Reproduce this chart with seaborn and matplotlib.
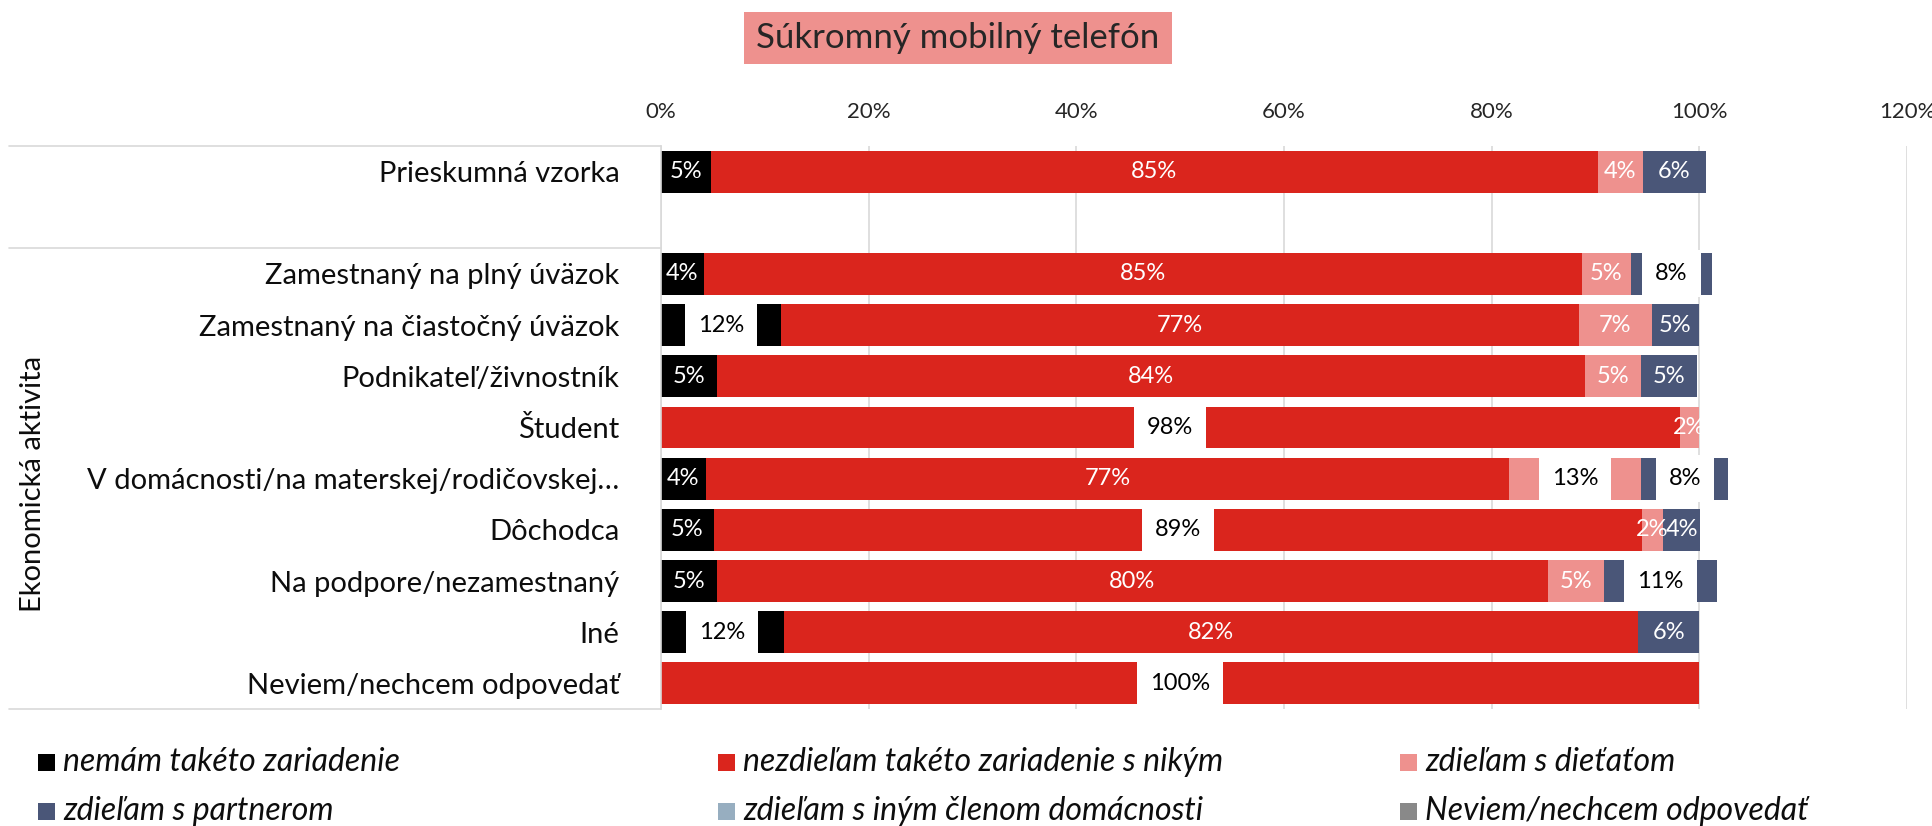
"""
Súkromný mobilný telefón - stacked bar chart by economic activity
"""

import matplotlib
matplotlib.use("Agg")
import matplotlib.pyplot as plt
from matplotlib.patches import Rectangle
from matplotlib.transforms import blended_transform_factory
import pandas as pd
import seaborn as sns

sns.set_theme(style="white")
plt.rcParams["font.family"] = ["Lato", "DejaVu Sans"]

# --- data (percent of respondents) ---
categories = [
    "Prieskumná vzorka",
    "",
    "Zamestnaný na plný úväzok",
    "Zamestnaný na čiastočný úväzok",
    "Podnikateľ/živnostník",
    "Študent",
    "V domácnosti/na materskej/rodičovskej…",
    "Dôchodca",
    "Na podpore/nezamestnaný",
    "Iné",
    "Neviem/nechcem odpovedať",
]

series_names = [
    "nemám takéto zariadenie",
    "nezdieľam takéto zariadenie s nikým",
    "zdieľam s dieťaťom",
    "zdieľam s partnerom",
    "zdieľam s iným členom domácnosti",
    "Neviem/nechcem odpovedať",
]

nemam = [4.8, 0, 4.1, 11.6, 5.4, 0, 4.3, 5.1, 5.4, 11.8, 0]
nezdielam = [85.4, 0, 84.6, 76.8, 83.6, 98.1, 77.4, 89.4, 80.0, 82.3, 100.0]
dieta = [4.4, 0, 4.7, 7.0, 5.4, 1.9, 12.7, 2.0, 5.4, 0, 0]
partner = [6.0, 0, 7.8, 4.6, 5.4, 0, 8.4, 3.6, 10.9, 5.9, 0]
iny_clen = [0, 0, 0, 0, 0, 0, 0, 0, 0, 0, 0]
neviem = [0, 0, 0, 0, 0, 0, 0, 0, 0, 0, 0]

series_values = [nemam, nezdielam, dieta, partner, iny_clen, neviem]
colors = ["#000000", "#DA251D", "#EE918E", "#4A5678", "#97AEC0", "#898989"]

# labels drawn black on a white box (as in the original)
boxed_labels = {
    ("Zamestnaný na plný úväzok", "zdieľam s partnerom"),
    ("Zamestnaný na čiastočný úväzok", "nemám takéto zariadenie"),
    ("Študent", "nezdieľam takéto zariadenie s nikým"),
    ("V domácnosti/na materskej/rodičovskej…", "zdieľam s dieťaťom"),
    ("V domácnosti/na materskej/rodičovskej…", "zdieľam s partnerom"),
    ("Dôchodca", "nezdieľam takéto zariadenie s nikým"),
    ("Na podpore/nezamestnaný", "zdieľam s partnerom"),
    ("Iné", "nemám takéto zariadenie"),
    ("Neviem/nechcem odpovedať", "nezdieľam takéto zariadenie s nikým"),
}

W, H = 1933, 826
fig = plt.figure(figsize=(W / 100, H / 100), dpi=100)
ax = fig.add_axes([661 / W, 1 - 709 / H, (1907 - 661) / W, (709 - 146) / H])

left = [0.0] * len(categories)
for name, vals, col in zip(series_names, series_values, colors):
    df = pd.DataFrame({"kategoria": categories, "podiel": vals})
    sns.barplot(
        data=df,
        x="podiel",
        y="kategoria",
        order=categories,
        orient="y",
        left=list(left),
        color=col,
        saturation=1,
        width=0.82,
        linewidth=0,
        errorbar=None,
        ax=ax,
    )
    left = [l + v for l, v in zip(left, vals)]

# data labels
for container, name, vals in zip(ax.containers, series_names, series_values):
    texts = ax.bar_label(
        container,
        labels=[f"{v:.0f}%" if v > 0 else "" for v in vals],
        label_type="center",
        fontsize=17,
        color="white",
    )
    for txt, cat in zip(texts, categories):
        if (cat, name) in boxed_labels:
            txt.set_color("black")
            txt.set_bbox(dict(boxstyle="square,pad=0.55", fc="white", ec="none"))

# axes styling
ax.set_xlim(0, 120)
ax.set_ylim(len(categories) - 0.5, -0.5)
ax.set_xticks(range(0, 121, 20))
ax.set_xticklabels([f"{t}%" for t in range(0, 121, 20)])
ax.xaxis.set_ticks_position("top")
ax.set_xlabel("")
ax.set_ylabel("")
ax.tick_params(axis="x", length=0, pad=17, labelsize=16, labelcolor="#262626")
ax.tick_params(axis="y", length=0, pad=30, labelsize=21, labelcolor="#0d0d0d")
ax.grid(axis="x", color="#D9D9D9", linewidth=1.2)
ax.grid(axis="y", visible=False)
ax.set_axisbelow(True)
for side in ["top", "right", "bottom"]:
    ax.spines[side].set_visible(False)
ax.spines["left"].set_color("#D9D9D9")
ax.spines["left"].set_linewidth(1.2)

# multi-level category separators to the left of the axis
trans = blended_transform_factory(ax.transAxes, ax.transData)
x0 = (9 - 661) / (1907 - 661)
for yv in [-0.5, 1.5, len(categories) - 0.5]:
    ax.plot([x0, 0], [yv, yv], color="#D9D9D9", linewidth=1.2,
            transform=trans, clip_on=False)

fig.text(33 / W, 1 - 484 / H, "Ekonomická aktivita", rotation=90,
         ha="center", va="center", fontsize=21, color="#0d0d0d")

# title with pink background
fig.add_artist(Rectangle((744 / W, 1 - 64 / H), (1172 - 744) / W, 52 / H,
                         transform=fig.transFigure, facecolor="#EE918E",
                         edgecolor="none"))
fig.text(958 / W, 1 - 38 / H, "Súkromný mobilný telefón", ha="center",
         va="center", fontsize=25, color="#262626")

# legend (3 columns x 2 rows)
col_x = [38, 718, 1400]
row_y = [762, 811]
for i, (name, col) in enumerate(zip(series_names, colors)):
    x = col_x[i % 3]
    y = row_y[i // 3]
    fig.add_artist(Rectangle((x / W, 1 - (y + 8.5) / H), 17 / W, 17 / H,
                             transform=fig.transFigure, facecolor=col,
                             edgecolor="none"))
    fig.text((x + 25) / W, 1 - y / H, name, ha="left", va="center",
             fontsize=23, style="italic", color="#0d0d0d")

fig.savefig("out.png", dpi=100)
plt.close(fig)
